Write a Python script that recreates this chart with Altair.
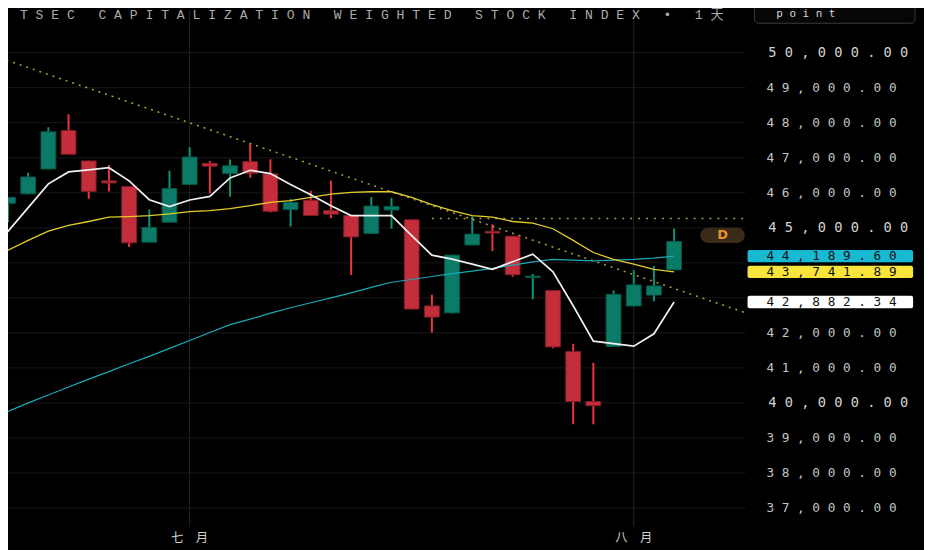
import altair as alt
import pandas as pd

NB = "\u00a0"

# ---------------- data ----------------
title_text = "TSEC CAPITALIZATION WEIGHTED STOCK INDEX • 1天"
interval_text = "point"

idx = list(range(1, 35))
opens = [45700, 45970, 46680, 47780, 46910, 46340, 46180, 44590, 45160, 46240,
         46840, 46550, 46890, 46540, 45520, 45790, 45490, 45350, 44840, 45510,
         45230, 42770, 42570, 44510, 44900, 44760, 43580, 43210, 41470, 40040,
         41610, 42770, 43080, 43800]
highs = [45880, 46570, 47870, 48240, 46920, 46790, 46190, 45520, 46630, 47300,
         46910, 46950, 47410, 46960, 45830, 46060, 46340, 45360, 45880, 45850,
         45240, 43090, 44230, 45330, 45100, 44770, 43680, 43220, 41690, 41150,
         43210, 43790, 43910, 44980]
lows = [45160, 45960, 46670, 47100, 45830, 46040, 44450, 44580, 45150, 46230,
        45980, 45890, 46430, 45440, 45040, 45340, 45270, 43650, 44830, 44970,
        42670, 42010, 42560, 44500, 44340, 43600, 42960, 41560, 39390, 39390,
        41600, 42760, 42900, 43790]
closes = [45870, 46450, 47740, 47100, 46040, 46280, 44570, 45010, 46120, 47020,
          46760, 46770, 46560, 45470, 45720, 45350, 45390, 44740, 45620, 45610,
          42680, 42450, 44220, 44820, 44850, 43660, 43620, 41600, 40040, 39920,
          43100, 43370, 43340, 44610]

ma_idx = list(range(0, 35))
ma5 = [44387, 44897, 45576, 46255, 46595, 46652, 46717, 46340, 45803, 45604,
       45794, 45896, 46425, 46643, 46547, 46236, 45944, 45633, 45350, 45350,
       45350, 44775, 44218, 44104, 43963, 43813, 44031, 44246, 43745, 42774,
       41764, 41693, 41622, 41973, 42882.34]
ma20 = [44076, 44359, 44642, 44905, 45067, 45180, 45302, 45321, 45350, 45398,
        45463, 45491, 45548, 45633, 45726, 45774, 45868, 45964, 46009, 46029,
        46029, 45868, 45661, 45491, 45350, 45302, 45180, 45132, 44973, 44642,
        44294, 44096, 43963, 43813, 43741.89]
ma60 = [39547, 39760, 40000, 40227, 40453, 40679, 40892, 41118, 41330, 41557,
        41783, 42010, 42236, 42392, 42562, 42717, 42859, 43000, 43142, 43298,
        43445, 43524, 43609, 43694, 43765, 43841, 43934, 44028, 44096, 44076,
        44056, 44076, 44096, 44133, 44189.60]

trend_idx = [0.6, 37.6]
trend_val = [49850, 42560]
level_idx = [22, 37.6]
level_val = [45265, 45265]

badge_vals = [44189.60, 43741.89, 42882.34]
badge_fills = ["#17b9d3", "#f8e43a", "#ffffff"]

marker_text = ["D"]
marker_val = [44784]
marker_lo = [35.3]
marker_hi = [37.5]

month_pos = [10, 32]
month_names = ["七月", "八月"]
y_ticks = list(range(37000, 50001, 1000))

# ---------------- frames ----------------
cdf = pd.DataFrame({"i": idx, "o": opens, "h": highs, "l": lows, "c": closes})
cdf["dir"] = ["up" if c >= o else "down" for o, c in zip(opens, closes)]
ma_df = pd.DataFrame({"i": ma_idx, "ma5": ma5, "ma20": ma20, "ma60": ma60})
trend_df = pd.DataFrame({"i": trend_idx, "v": trend_val})
level_df = pd.DataFrame({"i": level_idx, "v": level_val})
badge_df = pd.DataFrame({"v": badge_vals, "fill": badge_fills})
marker_df = pd.DataFrame({"t": marker_text, "v": marker_val, "lo": marker_lo, "hi": marker_hi})
tick_df = pd.DataFrame({"v": y_ticks})
month_df = pd.DataFrame({"i": month_pos, "t": ["\u3000".join(list(m)) for m in month_names]})

W, H = 744, 521
X_SCALE = alt.Scale(domain=[1.0, 37.54], nice=False, zero=False)
Y_SCALE = alt.Scale(domain=[36462, 51209], nice=False, zero=False)


def X(field):
    return alt.X(field, scale=X_SCALE, axis=None)


def Y(field):
    return alt.Y(field, scale=Y_SCALE, axis=None)


spaced_num = "replace(format({}, ',.2f'), regexp('(.)', 'g'), '$1" + NB + "')"
up_down = ["up", "down"]
# axis labels hidden behind the price badges (as on the reference)
free_of_badges = " && ".join(f"abs(datum.v - {b}) > 330" for b in badge_vals)

# grid lines
hgrid = alt.Chart(tick_df).mark_rule(color="#181818", strokeWidth=1).encode(
    y=Y("v:Q"), x=alt.value(0), x2=alt.value(W))
vgrid = alt.Chart(month_df).mark_rule(color="#262626", strokeWidth=1).encode(
    x=X("i:Q"), y=alt.value(0), y2=alt.value(H))

# price labels (right side)
ylab_small = alt.Chart(tick_df).transform_filter(
    f"datum.v % 5000 !== 0 && {free_of_badges}"
).transform_calculate(
    lab=spaced_num.format("datum.v")
).mark_text(color="#c4c4c4", font="DejaVu Sans Mono", fontSize=12.85,
            align="left", baseline="middle", clip=False).encode(
    x=alt.value(765), y=Y("v:Q"), text="lab:N")
ylab_big = alt.Chart(tick_df).transform_filter(
    f"datum.v % 5000 === 0 && {free_of_badges}"
).transform_calculate(
    lab=spaced_num.format("datum.v")
).mark_text(color="#d2d2d2", font="DejaVu Sans Mono", fontSize=13.8,
            align="left", baseline="middle", clip=False).encode(
    x=alt.value(767), y=Y("v:Q"), text="lab:N")

# month labels
xlab = alt.Chart(month_df).mark_text(color="#cfcfcf", font="Noto Sans CJK SC", fontSize=12.5,
                                     align="center", baseline="middle", clip=False).encode(
    x=X("i:Q"), y=alt.value(532), text="t:N")

wick = alt.Chart(cdf).mark_rule(strokeWidth=2, clip=True).encode(
    x=X("i:Q"), y=Y("l:Q"), y2="h:Q",
    color=alt.Color("dir:N", scale=alt.Scale(domain=up_down, range=["#0c927a", "#ef3341"]), legend=None),
)

body = alt.Chart(cdf).transform_calculate(
    xl="datum.i - 0.365", xr="datum.i + 0.365"
).mark_rect(strokeWidth=1, clip=True).encode(
    x=X("xl:Q"), x2="xr:Q", y=Y("o:Q"), y2="c:Q",
    fill=alt.Fill("dir:N", scale=alt.Scale(domain=up_down, range=["#0b7b67", "#c42d3a"]), legend=None),
    stroke=alt.Stroke("dir:N", scale=alt.Scale(domain=up_down, range=["#075a4b", "#7f1d26"]), legend=None),
)

trend = alt.Chart(trend_df).mark_line(color="#a99c2c", strokeWidth=1.6, strokeDash=[2, 5], clip=True).encode(
    x=X("i:Q"), y=Y("v:Q"))
level = alt.Chart(level_df).mark_line(color="#a99c2c", strokeWidth=1.6, strokeDash=[2, 6], clip=True).encode(
    x=X("i:Q"), y=Y("v:Q"))


def ma_line(field, color, width):
    return alt.Chart(ma_df).mark_line(color=color, strokeWidth=width, clip=True).encode(
        x=X("i:Q"), y=Y(f"{field}:Q"))


cyan = ma_line("ma60", "#19a9b9", 1.2)
yellow = ma_line("ma20", "#e2cd2a", 1.3)
white = ma_line("ma5", "#f0f0f0", 1.7)

marker_rect = alt.Chart(marker_df).transform_calculate(
    y0="datum.v - 215", y1="datum.v + 215"
).mark_rect(fill="#3a2a1a", cornerRadius=8, clip=True).encode(
    x=X("lo:Q"), x2="hi:Q", y=Y("y0:Q"), y2="y1:Q")
marker_label = alt.Chart(marker_df).transform_calculate(
    mid="(datum.lo + datum.hi) / 2"
).mark_text(color="#e8902c", font="DejaVu Sans", fontWeight="bold", fontSize=13,
            align="center", baseline="middle").encode(
    x=X("mid:Q"), y=Y("v:Q"), text="t:N")

badge_rect = alt.Chart(badge_df).transform_calculate(
    y0="datum.v - 176", y1="datum.v + 176"
).mark_rect(cornerRadius=2, clip=False).encode(
    x=alt.value(746), x2=alt.value(913), y=Y("y0:Q"), y2="y1:Q",
    fill=alt.Fill("fill:N", scale=None))
badge_text = alt.Chart(badge_df).transform_calculate(
    lab=spaced_num.format("datum.v")
).mark_text(color="#111111", font="DejaVu Sans Mono", fontSize=12.85,
            align="left", baseline="middle", clip=False).encode(
    x=alt.value(765), y=Y("v:Q"), text="lab:N")

title_spaced = NB.join(list(title_text.replace(" ", NB)))
title = alt.Chart(pd.DataFrame({"t": [title_spaced]})).mark_text(
    color="#ababab", font="Liberation Mono, Noto Sans CJK SC, monospace", fontSize=13.2,
    align="left", baseline="middle").encode(
    x=alt.value(12), y=alt.value(4.5), text="t:N")

box = alt.Chart(pd.DataFrame({"t": [interval_text]})).mark_rect(
    fill="#060606", stroke="#3c3c3c", strokeWidth=1, cornerRadius=4).encode(
    x=alt.value(753), x2=alt.value(915), y=alt.value(-5), y2=alt.value(13))
box_text = alt.Chart(pd.DataFrame({"t": [NB.join(list(interval_text))]})).mark_text(
    color="#d6d6d6", font="DejaVu Sans Mono", fontSize=11,
    align="left", baseline="middle").encode(
    x=alt.value(775), y=alt.value(4), text="t:N")

chart = alt.layer(
    hgrid, vgrid, ylab_small, ylab_big, xlab,
    wick, body, trend, level, cyan, yellow, white,
    marker_rect, marker_label, badge_rect, badge_text, title, box, box_text
).properties(
    width=W, height=H,
    autosize=alt.AutoSizeParams(type="none"),
    padding={"left": 0, "top": 0, "right": 180, "bottom": 21},
    background="#000000",
).configure_view(stroke=None)

chart.save("out.html", embed_options={"renderer": "svg", "actions": False})
